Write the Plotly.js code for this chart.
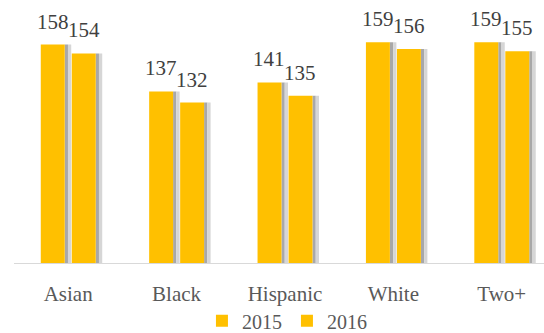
<!DOCTYPE html>
<html>
<head>
<meta charset="utf-8">
<script src="https://cdn.plot.ly/plotly-3.0.1.min.js"></script>
<style>html,body{margin:0;padding:0;background:#fff;}#chart{width:544px;height:333px;}</style>
</head>
<body>
<div id="chart"></div>
<script>
const categories = ["Asian", "Black", "Hispanic", "White", "Two+"];
const values2015 = [158, 137, 141, 159, 159];
const values2016 = [154, 132, 135, 156, 155];
const seriesNames = ["2015", "2016"];

const gold = "#FFC000";
const font = "'Liberation Serif', serif";
const barW = 0.221;
const off15 = -0.253, off16 = 0.033;

function shadow(vals, off, dx, w, color) {
  return {type: "bar", x: categories, y: vals, offset: off + barW + dx, width: w,
    marker: {color: color, line: {width: 0}}, showlegend: false, hoverinfo: "skip"};
}

const traces = [
  shadow(values2015, off15, 0.000, 0.030, "#a8a8a8"),
  shadow(values2015, off15, 0.030, 0.030, "#d6d6d6"),
  shadow(values2016, off16, 0.000, 0.030, "#a8a8a8"),
  shadow(values2016, off16, 0.030, 0.030, "#d6d6d6"),
  {type: "bar", name: seriesNames[0], x: categories, y: values2015, offset: off15, width: barW,
   marker: {color: gold, line: {width: 0}}},
  {type: "bar", name: seriesNames[1], x: categories, y: values2016, offset: off16, width: barW,
   marker: {color: gold, line: {width: 0}}}
];

const annotations = [];
categories.forEach((c, i) => {
  annotations.push({x: c, y: values2015[i], text: String(values2015[i]), xref: "x", yref: "y",
    showarrow: false, xanchor: "center", yanchor: "bottom", xshift: -15.5, yshift: 9,
    font: {family: font, size: 21, color: "#404040"}});
  annotations.push({x: c, y: values2016[i], text: String(values2016[i]), xref: "x", yref: "y",
    showarrow: false, xanchor: "center", yanchor: "bottom", xshift: 15.5, yshift: 9,
    font: {family: font, size: 21, color: "#404040"}});
});

const layout = {
  width: 544, height: 333,
  margin: {l: 14, r: 0, t: 0, b: 70, pad: 0, autoexpand: false},
  paper_bgcolor: "#ffffff", plot_bgcolor: "#ffffff",
  barmode: "overlay",
  showlegend: true,
  font: {family: font},
  legend: {orientation: "h", x: 0.515, xanchor: "center", y: -0.22, yanchor: "middle",
    bgcolor: "rgba(0,0,0,0)",
    font: {family: font, size: 20, color: "#595959"}, traceorder: "normal", itemwidth: 30},
  xaxis: {type: "category", range: [-0.5, 4.39], showline: true, linecolor: "#d9d9d9", linewidth: 1,
    ticks: "", showgrid: false, zeroline: false, ticklabelstandoff: 12,
    tickfont: {family: font, size: 21, color: "#595959"}},
  yaxis: {range: [60, 178], visible: false, showgrid: false, zeroline: false},
  annotations: annotations
};

Plotly.newPlot("chart", traces, layout, {staticPlot: true, displayModeBar: false});
</script>
</body>
</html>
